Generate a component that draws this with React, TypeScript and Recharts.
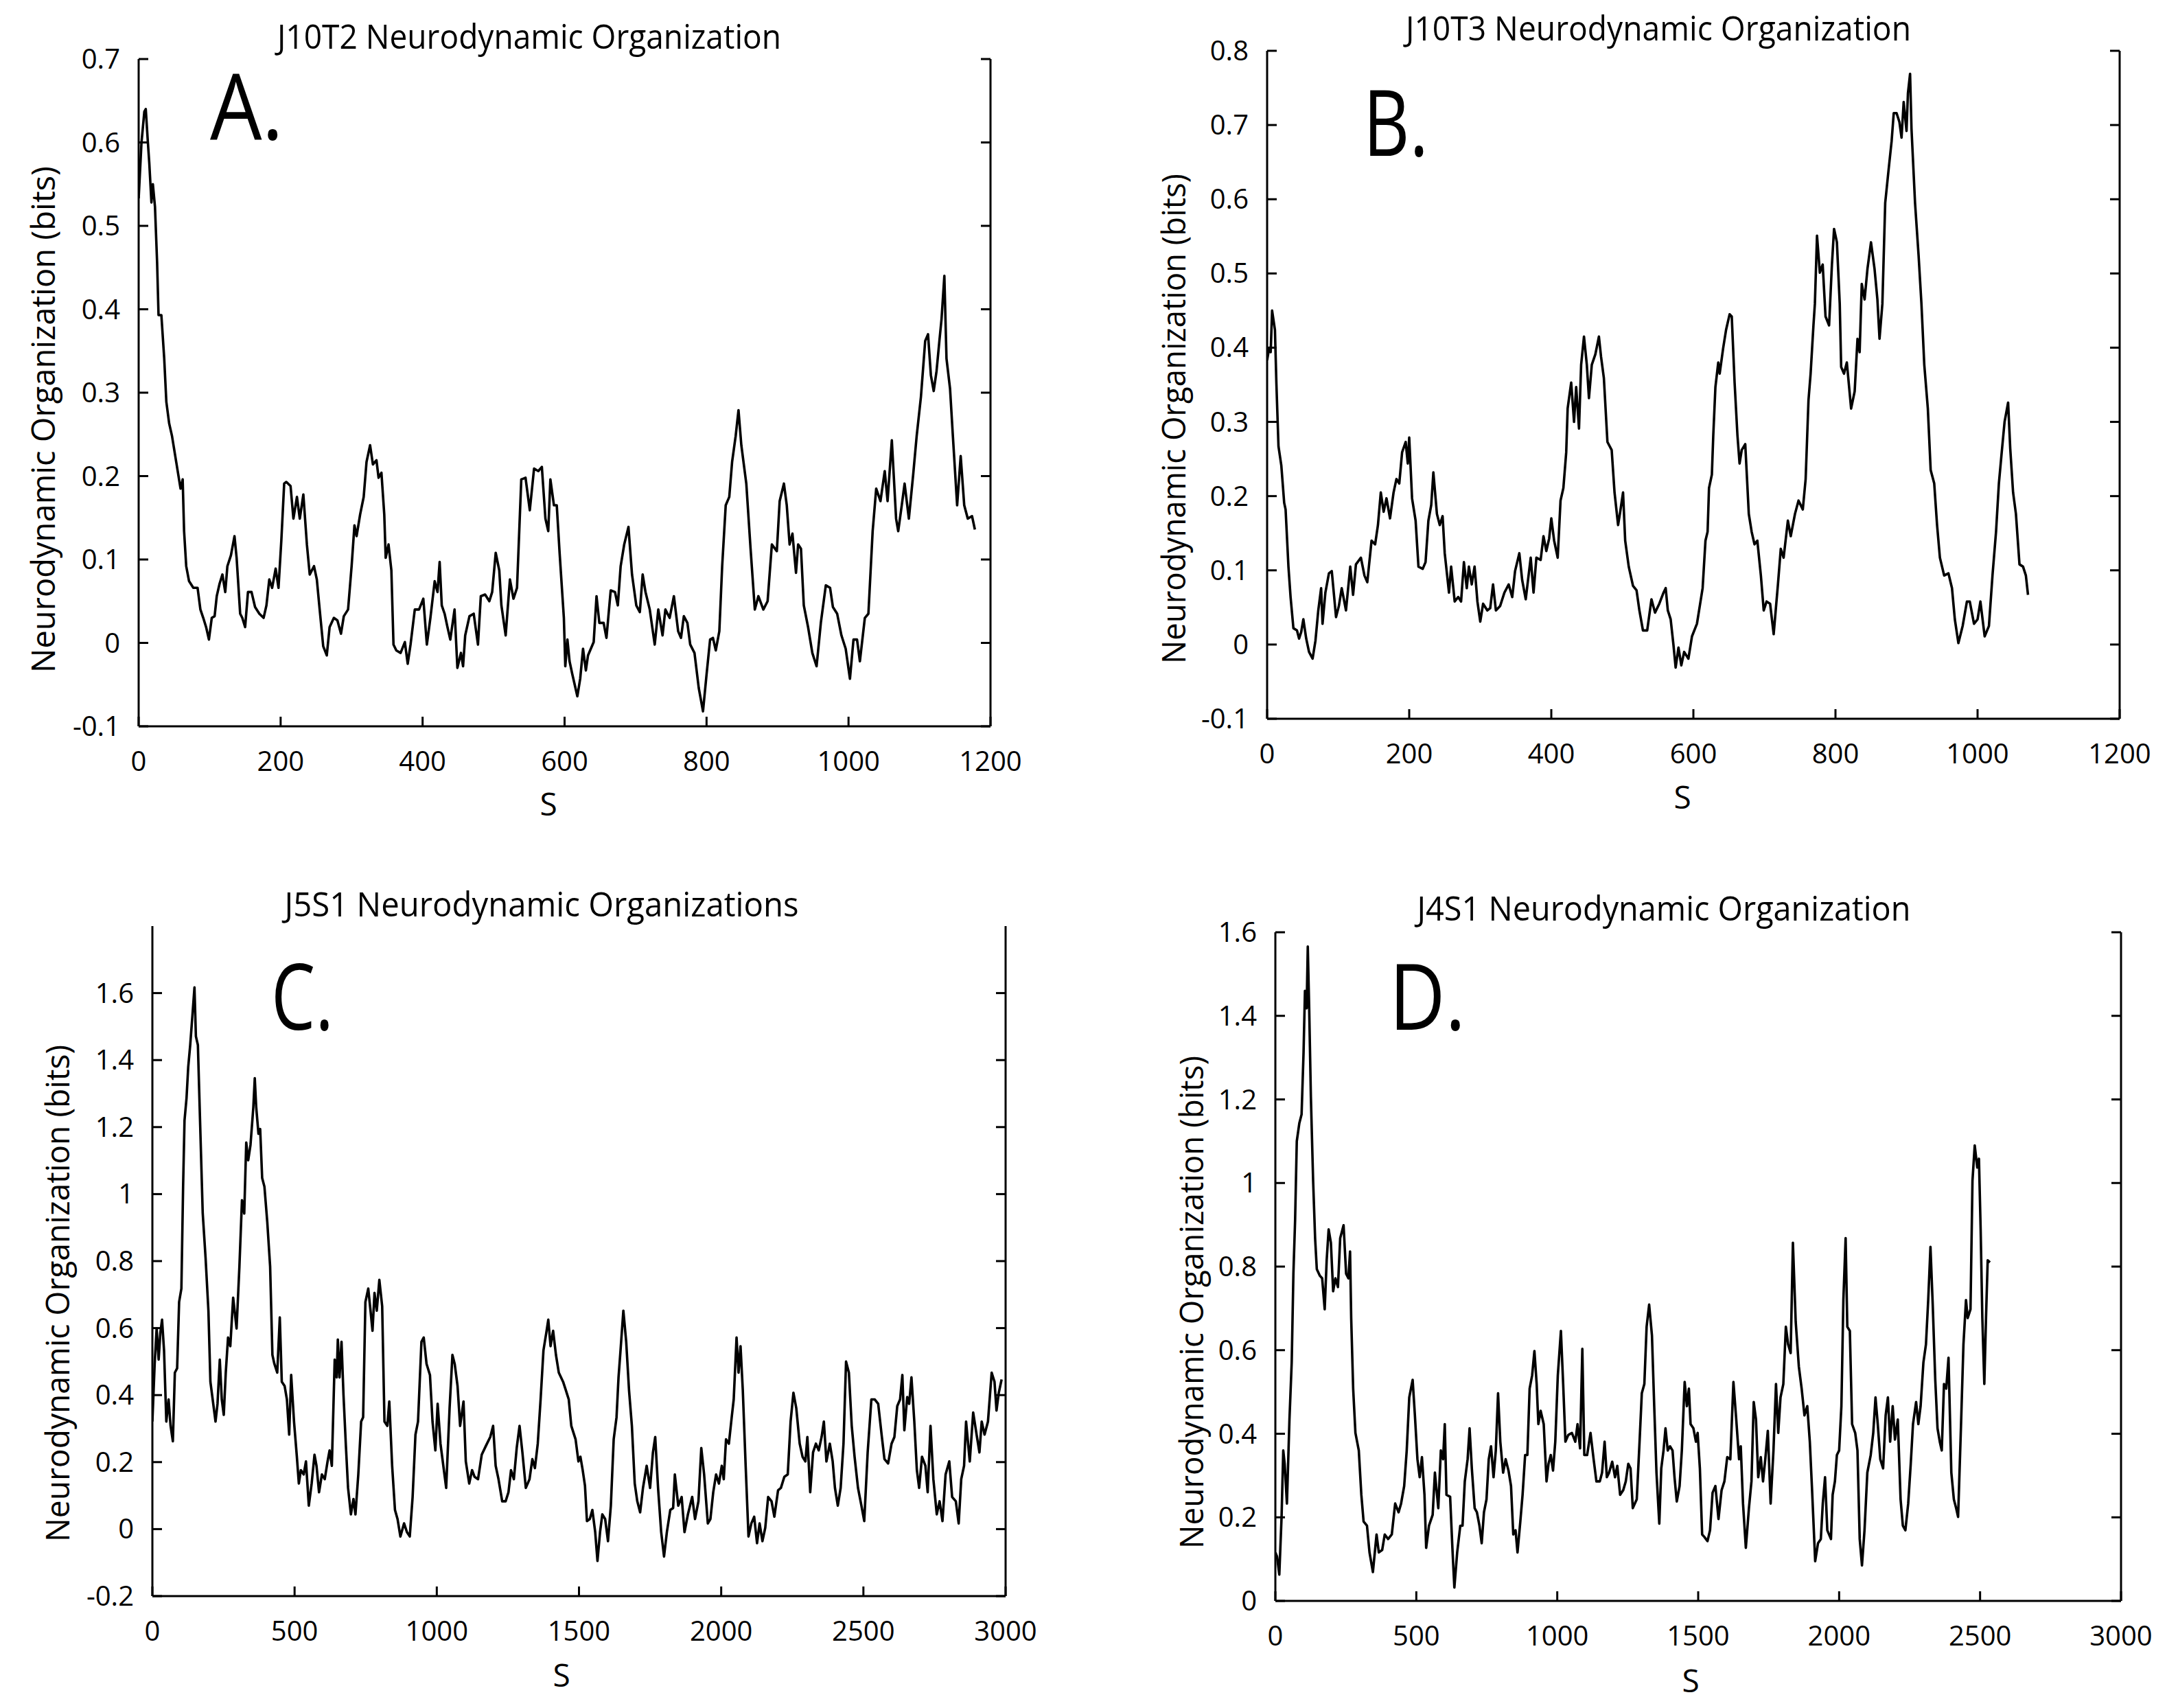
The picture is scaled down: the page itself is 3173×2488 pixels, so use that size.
import React from "react";
import { LineChart, Line, XAxis, YAxis, ReferenceLine } from "recharts";

// ---- panel A: J10T2 ----
const aS = [0, 4, 8, 10, 13, 15, 18, 20, 23, 26, 28, 32, 36, 39, 43, 47, 51, 55, 59, 62, 64, 67, 71, 77, 83, 87, 91, 95, 99, 103, 107, 110, 114, 118, 122, 125, 130, 135, 138, 143, 146, 150, 154, 159, 164, 170, 176, 180, 184, 188, 193, 197, 201, 205, 208, 214, 218, 223, 227, 232, 237, 241, 247, 251, 255, 260, 265, 269, 275, 280, 285, 289, 295, 300, 304, 307, 312, 317, 321, 326, 330, 335, 338, 342, 346, 348, 352, 356, 359, 363, 369, 375, 379, 383, 389, 395, 401, 406, 411, 417, 421, 424, 427, 431, 435, 439, 445, 449, 454, 457, 460, 466, 472, 478, 482, 488, 494, 498, 503, 508, 511, 517, 523, 528, 533, 539, 545, 551, 557, 563, 568, 573, 577, 580, 585, 589, 593, 599, 601, 604, 607, 611, 618, 622, 626, 630, 633, 641, 645, 649, 655, 659, 665, 671, 675, 679, 684, 690, 695, 701, 706, 710, 714, 720, 727, 732, 738, 742, 748, 754, 760, 764, 768, 773, 777, 783, 789, 795, 800, 805, 809, 813, 818, 822, 827, 832, 836, 841, 845, 849, 856, 862, 868, 873, 880, 886, 892, 899, 903, 909, 913, 917, 921, 926, 929, 933, 937, 943, 949, 955, 961, 968, 974, 978, 984, 990, 996, 1002, 1007, 1012, 1016, 1023, 1028, 1034, 1039, 1045, 1051, 1055, 1061, 1067, 1070, 1075, 1079, 1085, 1091, 1096, 1102, 1108, 1112, 1116, 1120, 1124, 1128, 1131, 1135, 1138, 1143, 1147, 1153, 1158, 1163, 1168, 1174, 1178];
const aN = [0.533, 0.6, 0.637, 0.64, 0.6, 0.575, 0.528, 0.55, 0.523, 0.456, 0.393, 0.393, 0.341, 0.289, 0.263, 0.248, 0.227, 0.206, 0.185, 0.196, 0.134, 0.092, 0.074, 0.066, 0.066, 0.04, 0.03, 0.019, 0.004, 0.03, 0.032, 0.056, 0.071, 0.082, 0.061, 0.092, 0.105, 0.128, 0.102, 0.035, 0.03, 0.019, 0.061, 0.061, 0.043, 0.035, 0.03, 0.045, 0.076, 0.066, 0.089, 0.066, 0.123, 0.191, 0.193, 0.188, 0.149, 0.175, 0.149, 0.178, 0.118, 0.082, 0.092, 0.076, 0.04, -0.004, -0.015, 0.019, 0.03, 0.027, 0.011, 0.032, 0.04, 0.092, 0.141, 0.128, 0.154, 0.175, 0.217, 0.237, 0.214, 0.219, 0.198, 0.204, 0.154, 0.102, 0.118, 0.087, -0.002, -0.009, -0.012, 0.001, -0.025, -0.002, 0.04, 0.04, 0.053, -0.002, 0.03, 0.074, 0.061, 0.097, 0.045, 0.035, 0.019, 0.004, 0.04, -0.03, -0.012, -0.028, 0.009, 0.032, 0.035, -0.002, 0.056, 0.058, 0.05, 0.061, 0.108, 0.087, 0.045, 0.009, 0.076, 0.053, 0.066, 0.196, 0.198, 0.159, 0.209, 0.206, 0.211, 0.149, 0.134, 0.196, 0.165, 0.165, 0.108, 0.03, -0.028, 0.004, -0.022, -0.038, -0.064, -0.043, -0.007, -0.033, -0.015, 0.001, 0.056, 0.024, 0.024, 0.006, 0.063, 0.061, 0.045, 0.092, 0.118, 0.139, 0.082, 0.045, 0.037, 0.082, 0.061, 0.04, -0.002, 0.04, 0.009, 0.04, 0.03, 0.056, 0.014, 0.006, 0.032, 0.024, -0.002, -0.012, -0.054, -0.082, -0.038, 0.004, 0.006, -0.009, 0.014, 0.092, 0.165, 0.175, 0.217, 0.248, 0.279, 0.237, 0.191, 0.113, 0.04, 0.056, 0.04, 0.05, 0.118, 0.11, 0.17, 0.191, 0.165, 0.118, 0.131, 0.084, 0.118, 0.113, 0.045, 0.019, -0.012, -0.028, 0.024, 0.069, 0.066, 0.043, 0.035, 0.009, -0.007, -0.043, 0.004, 0.004, -0.022, 0.03, 0.035, 0.134, 0.185, 0.17, 0.206, 0.17, 0.243, 0.149, 0.134, 0.165, 0.191, 0.149, 0.201, 0.248, 0.295, 0.362, 0.37, 0.321, 0.302, 0.326, 0.362, 0.388, 0.44, 0.341, 0.305, 0.248, 0.165, 0.224, 0.165, 0.149, 0.152, 0.136];

// ---- panel B: J10T3 ----
const bS = [0, 3, 5, 7, 11, 13, 16, 20, 24, 26, 30, 33, 37, 42, 45, 48, 51, 55, 59, 64, 68, 72, 76, 78, 82, 87, 91, 97, 101, 105, 111, 117, 121, 125, 132, 137, 141, 147, 152, 156, 160, 164, 168, 173, 178, 182, 186, 190, 195, 198, 200, 204, 209, 213, 219, 223, 227, 231, 234, 239, 243, 247, 250, 256, 259, 264, 269, 273, 277, 281, 284, 288, 292, 296, 300, 304, 310, 314, 318, 322, 328, 334, 340, 345, 349, 355, 359, 364, 371, 375, 379, 385, 389, 393, 397, 400, 404, 409, 413, 417, 421, 423, 428, 432, 435, 439, 442, 446, 450, 453, 457, 462, 467, 470, 474, 479, 485, 489, 494, 497, 501, 504, 509, 515, 520, 524, 529, 535, 541, 546, 552, 558, 561, 564, 568, 572, 575, 579, 583, 587, 593, 598, 605, 609, 613, 617, 620, 622, 626, 628, 631, 635, 637, 642, 646, 651, 654, 658, 662, 665, 668, 673, 678, 682, 686, 690, 695, 699, 703, 708, 713, 719, 723, 727, 733, 737, 743, 748, 754, 758, 762, 765, 769, 771, 774, 778, 782, 786, 791, 795, 798, 802, 806, 808, 812, 816, 822, 827, 831, 834, 837, 841, 845, 850, 855, 859, 862, 866, 870, 875, 879, 882, 886, 890, 893, 896, 900, 902, 905, 907, 912, 917, 921, 925, 930, 934, 939, 943, 947, 953, 959, 964, 968, 973, 979, 985, 989, 995, 1000, 1004, 1010, 1016, 1021, 1026, 1030, 1034, 1038, 1043, 1046, 1050, 1054, 1059, 1064, 1068, 1071];
const bN = [0.383, 0.4, 0.394, 0.45, 0.424, 0.353, 0.267, 0.241, 0.191, 0.182, 0.105, 0.064, 0.022, 0.019, 0.008, 0.017, 0.034, 0.008, -0.01, -0.019, 0.005, 0.046, 0.076, 0.028, 0.07, 0.096, 0.099, 0.037, 0.052, 0.076, 0.046, 0.105, 0.067, 0.108, 0.117, 0.093, 0.084, 0.14, 0.135, 0.161, 0.205, 0.179, 0.197, 0.17, 0.205, 0.223, 0.217, 0.259, 0.273, 0.244, 0.279, 0.197, 0.167, 0.105, 0.102, 0.111, 0.167, 0.188, 0.232, 0.176, 0.161, 0.173, 0.123, 0.07, 0.105, 0.058, 0.064, 0.058, 0.111, 0.076, 0.105, 0.081, 0.105, 0.058, 0.031, 0.055, 0.046, 0.049, 0.081, 0.046, 0.052, 0.07, 0.081, 0.064, 0.099, 0.123, 0.087, 0.061, 0.117, 0.07, 0.117, 0.114, 0.146, 0.126, 0.143, 0.17, 0.14, 0.117, 0.194, 0.211, 0.259, 0.318, 0.353, 0.3, 0.347, 0.291, 0.377, 0.415, 0.377, 0.332, 0.377, 0.391, 0.415, 0.388, 0.359, 0.273, 0.262, 0.205, 0.161, 0.179, 0.205, 0.14, 0.105, 0.079, 0.073, 0.046, 0.019, 0.019, 0.061, 0.043, 0.055, 0.07, 0.076, 0.046, 0.034, -0.001, -0.031, -0.004, -0.028, -0.01, -0.019, 0.011, 0.028, 0.052, 0.076, 0.14, 0.152, 0.211, 0.229, 0.282, 0.347, 0.38, 0.365, 0.4, 0.424, 0.445, 0.442, 0.353, 0.282, 0.244, 0.262, 0.27, 0.176, 0.152, 0.135, 0.14, 0.093, 0.046, 0.058, 0.055, 0.014, 0.081, 0.129, 0.117, 0.167, 0.146, 0.176, 0.194, 0.182, 0.223, 0.329, 0.365, 0.43, 0.459, 0.551, 0.501, 0.512, 0.442, 0.43, 0.512, 0.56, 0.542, 0.459, 0.374, 0.365, 0.38, 0.318, 0.341, 0.412, 0.394, 0.486, 0.465, 0.506, 0.542, 0.506, 0.465, 0.412, 0.459, 0.595, 0.642, 0.678, 0.716, 0.716, 0.704, 0.683, 0.731, 0.692, 0.743, 0.769, 0.695, 0.595, 0.524, 0.459, 0.377, 0.318, 0.235, 0.217, 0.161, 0.117, 0.093, 0.096, 0.076, 0.034, 0.002, 0.025, 0.058, 0.058, 0.028, 0.034, 0.058, 0.011, 0.025, 0.093, 0.152, 0.217, 0.259, 0.3, 0.326, 0.264, 0.205, 0.176, 0.108, 0.105, 0.093, 0.067];

// ---- panel C: J5S1 ----
const cS = [0, 8, 15, 22, 28, 34, 41, 49, 57, 64, 72, 79, 87, 94, 102, 108, 113, 120, 126, 133, 140, 148, 153, 160, 168, 177, 187, 197, 204, 212, 222, 229, 237, 244, 251, 258, 266, 274, 284, 296, 306, 315, 323, 330, 337, 345, 355, 360, 365, 373, 379, 386, 394, 404, 414, 422, 429, 439, 448, 455, 465, 473, 481, 488, 498, 508, 515, 522, 532, 540, 550, 560, 570, 577, 586, 596, 606, 616, 623, 631, 641, 648, 652, 658, 665, 672, 680, 688, 698, 707, 714, 724, 734, 741, 749, 759, 767, 774, 781, 789, 798, 808, 816, 826, 833, 843, 853, 862, 872, 885, 895, 905, 915, 925, 934, 946, 954, 964, 976, 985, 995, 1003, 1013, 1023, 1033, 1045, 1055, 1063, 1073, 1082, 1094, 1102, 1114, 1124, 1133, 1145, 1158, 1173, 1188, 1198, 1207, 1217, 1230, 1242, 1252, 1261, 1271, 1281, 1291, 1301, 1313, 1326, 1336, 1345, 1355, 1365, 1375, 1385, 1392, 1400, 1409, 1419, 1429, 1444, 1454, 1464, 1473, 1488, 1498, 1505, 1513, 1521, 1528, 1538, 1547, 1557, 1565, 1574, 1582, 1592, 1602, 1612, 1622, 1632, 1639, 1646, 1656, 1666, 1676, 1686, 1696, 1705, 1715, 1725, 1738, 1750, 1760, 1768, 1778, 1789, 1799, 1809, 1821, 1831, 1837, 1849, 1861, 1871, 1883, 1898, 1908, 1920, 1930, 1940, 1953, 1962, 1972, 1982, 1992, 2002, 2009, 2017, 2027, 2037, 2044, 2054, 2061, 2068, 2076, 2086, 2096, 2106, 2116, 2126, 2135, 2145, 2155, 2165, 2177, 2187, 2200, 2210, 2222, 2234, 2244, 2254, 2264, 2276, 2286, 2296, 2303, 2313, 2323, 2333, 2343, 2353, 2361, 2370, 2382, 2392, 2400, 2410, 2420, 2430, 2439, 2449, 2459, 2469, 2481, 2493, 2503, 2515, 2528, 2540, 2552, 2564, 2574, 2587, 2599, 2609, 2619, 2629, 2637, 2644, 2654, 2661, 2669, 2679, 2688, 2696, 2706, 2718, 2726, 2736, 2746, 2758, 2768, 2778, 2789, 2802, 2812, 2825, 2835, 2844, 2854, 2861, 2874, 2886, 2898, 2908, 2916, 2926, 2938, 2951, 2961, 2968, 2976, 2986];
const cN = [0.321, 0.493, 0.599, 0.506, 0.586, 0.625, 0.533, 0.321, 0.387, 0.308, 0.262, 0.467, 0.48, 0.678, 0.718, 1.022, 1.22, 1.286, 1.379, 1.445, 1.524, 1.617, 1.471, 1.445, 1.207, 0.943, 0.81, 0.652, 0.44, 0.387, 0.321, 0.374, 0.506, 0.387, 0.341, 0.467, 0.572, 0.546, 0.691, 0.599, 0.784, 0.982, 0.942, 1.154, 1.101, 1.147, 1.26, 1.346, 1.26, 1.18, 1.194, 1.048, 1.022, 0.916, 0.784, 0.52, 0.493, 0.467, 0.632, 0.44, 0.427, 0.387, 0.282, 0.46, 0.321, 0.216, 0.136, 0.176, 0.163, 0.202, 0.07, 0.136, 0.222, 0.189, 0.11, 0.163, 0.149, 0.202, 0.235, 0.189, 0.506, 0.453, 0.566, 0.453, 0.559, 0.4, 0.255, 0.123, 0.044, 0.09, 0.044, 0.163, 0.321, 0.334, 0.678, 0.718, 0.652, 0.592, 0.705, 0.652, 0.744, 0.665, 0.321, 0.308, 0.381, 0.189, 0.057, 0.03, -0.022, 0.017, -0.009, -0.022, 0.096, 0.282, 0.321, 0.559, 0.572, 0.493, 0.46, 0.321, 0.235, 0.374, 0.255, 0.189, 0.123, 0.361, 0.52, 0.493, 0.427, 0.308, 0.381, 0.202, 0.136, 0.176, 0.156, 0.149, 0.222, 0.249, 0.275, 0.308, 0.189, 0.149, 0.083, 0.083, 0.11, 0.176, 0.149, 0.242, 0.308, 0.229, 0.123, 0.149, 0.209, 0.182, 0.255, 0.387, 0.533, 0.586, 0.625, 0.546, 0.592, 0.52, 0.467, 0.44, 0.414, 0.387, 0.308, 0.268, 0.202, 0.216, 0.176, 0.13, 0.024, 0.03, 0.057, -0.009, -0.095, -0.009, 0.044, 0.03, -0.036, 0.07, 0.268, 0.334, 0.453, 0.533, 0.652, 0.559, 0.414, 0.308, 0.136, 0.083, 0.05, 0.123, 0.189, 0.123, 0.229, 0.275, 0.123, -0.009, -0.082, -0.009, 0.057, 0.063, 0.163, 0.07, 0.096, -0.009, 0.044, 0.096, 0.03, 0.083, 0.242, 0.163, 0.017, 0.03, 0.11, 0.163, 0.136, 0.189, 0.149, 0.268, 0.255, 0.334, 0.387, 0.572, 0.467, 0.546, 0.414, 0.189, -0.022, 0.017, 0.037, -0.042, 0.017, -0.036, 0.004, 0.096, 0.083, 0.037, 0.116, 0.123, 0.156, 0.163, 0.321, 0.407, 0.361, 0.255, 0.216, 0.202, 0.275, 0.11, 0.229, 0.255, 0.235, 0.275, 0.321, 0.202, 0.255, 0.202, 0.123, 0.07, 0.123, 0.255, 0.5, 0.467, 0.308, 0.216, 0.123, 0.07, 0.024, 0.229, 0.387, 0.387, 0.374, 0.282, 0.209, 0.196, 0.255, 0.275, 0.367, 0.387, 0.46, 0.295, 0.394, 0.374, 0.453, 0.321, 0.176, 0.123, 0.216, 0.189, 0.11, 0.308, 0.149, 0.044, 0.083, 0.024, 0.163, 0.202, 0.096, 0.083, 0.017, 0.149, 0.189, 0.321, 0.202, 0.348, 0.282, 0.229, 0.321, 0.282, 0.321, 0.467, 0.44, 0.354, 0.407, 0.447];

// ---- panel D: J4S1 ----
const dS = [0, 6, 14, 22, 28, 33, 41, 50, 58, 64, 70, 76, 85, 93, 100, 105, 111, 115, 120, 126, 134, 141, 147, 158, 166, 175, 182, 189, 197, 205, 213, 222, 230, 242, 251, 259, 265, 269, 276, 284, 296, 305, 313, 325, 334, 346, 359, 367, 379, 388, 400, 413, 425, 437, 446, 457, 466, 475, 487, 495, 504, 512, 520, 529, 535, 545, 558, 566, 578, 587, 595, 601, 607, 620, 628, 635, 645, 656, 664, 672, 682, 689, 697, 707, 715, 724, 732, 740, 749, 757, 765, 774, 782, 790, 798, 808, 817, 827, 836, 844, 852, 859, 869, 877, 886, 894, 902, 911, 919, 927, 933, 941, 952, 962, 969, 977, 985, 993, 1002, 1013, 1021, 1029, 1039, 1052, 1064, 1072, 1081, 1089, 1096, 1106, 1118, 1129, 1139, 1151, 1159, 1168, 1176, 1184, 1195, 1205, 1213, 1223, 1234, 1243, 1252, 1260, 1268, 1282, 1292, 1300, 1309, 1317, 1326, 1336, 1344, 1352, 1362, 1369, 1377, 1384, 1392, 1400, 1409, 1416, 1424, 1434, 1442, 1452, 1460, 1467, 1473, 1483, 1492, 1498, 1506, 1514, 1522, 1533, 1542, 1551, 1561, 1572, 1583, 1593, 1603, 1614, 1625, 1635, 1645, 1651, 1659, 1669, 1680, 1689, 1697, 1705, 1713, 1722, 1730, 1738, 1747, 1757, 1767, 1776, 1784, 1792, 1802, 1811, 1819, 1828, 1836, 1846, 1857, 1867, 1877, 1887, 1896, 1904, 1915, 1925, 1935, 1942, 1950, 1958, 1971, 1977, 1985, 1992, 2000, 2008, 2015, 2023, 2029, 2038, 2046, 2057, 2065, 2073, 2081, 2090, 2100, 2112, 2121, 2129, 2137, 2146, 2156, 2165, 2173, 2181, 2190, 2198, 2208, 2218, 2226, 2235, 2245, 2254, 2262, 2273, 2281, 2289, 2299, 2308, 2316, 2324, 2332, 2341, 2349, 2357, 2364, 2372, 2380, 2388, 2398, 2407, 2415, 2422, 2432, 2441, 2450, 2456, 2466, 2473, 2481, 2490, 2496, 2502, 2508, 2515, 2521, 2527, 2535];
const dN = [0.116, 0.106, 0.063, 0.2, 0.36, 0.328, 0.233, 0.434, 0.571, 0.783, 0.91, 1.1, 1.143, 1.164, 1.312, 1.46, 1.418, 1.566, 1.418, 1.206, 1.005, 0.868, 0.794, 0.778, 0.772, 0.698, 0.815, 0.889, 0.857, 0.741, 0.772, 0.751, 0.868, 0.899, 0.783, 0.772, 0.836, 0.677, 0.508, 0.402, 0.36, 0.254, 0.19, 0.18, 0.116, 0.069, 0.159, 0.116, 0.122, 0.159, 0.148, 0.159, 0.233, 0.212, 0.233, 0.275, 0.36, 0.487, 0.529, 0.444, 0.339, 0.296, 0.344, 0.254, 0.127, 0.18, 0.206, 0.307, 0.222, 0.36, 0.339, 0.423, 0.254, 0.249, 0.127, 0.032, 0.116, 0.18, 0.18, 0.286, 0.339, 0.413, 0.317, 0.222, 0.212, 0.18, 0.138, 0.212, 0.243, 0.339, 0.37, 0.296, 0.36, 0.497, 0.381, 0.307, 0.339, 0.312, 0.275, 0.159, 0.169, 0.116, 0.19, 0.254, 0.349, 0.349, 0.508, 0.54, 0.598, 0.519, 0.423, 0.455, 0.423, 0.286, 0.328, 0.349, 0.312, 0.381, 0.54, 0.646, 0.519, 0.381, 0.397, 0.402, 0.381, 0.423, 0.365, 0.603, 0.349, 0.349, 0.402, 0.339, 0.286, 0.286, 0.307, 0.381, 0.296, 0.307, 0.333, 0.296, 0.323, 0.254, 0.265, 0.286, 0.328, 0.317, 0.222, 0.243, 0.381, 0.497, 0.519, 0.656, 0.709, 0.635, 0.466, 0.307, 0.185, 0.317, 0.36, 0.413, 0.36, 0.37, 0.36, 0.296, 0.238, 0.275, 0.36, 0.524, 0.466, 0.508, 0.423, 0.413, 0.381, 0.402, 0.317, 0.159, 0.153, 0.143, 0.169, 0.259, 0.275, 0.196, 0.265, 0.286, 0.344, 0.339, 0.524, 0.434, 0.339, 0.37, 0.233, 0.127, 0.222, 0.286, 0.476, 0.434, 0.296, 0.344, 0.286, 0.339, 0.407, 0.233, 0.36, 0.519, 0.402, 0.487, 0.519, 0.656, 0.614, 0.593, 0.857, 0.667, 0.561, 0.508, 0.444, 0.466, 0.381, 0.265, 0.095, 0.138, 0.148, 0.233, 0.296, 0.169, 0.148, 0.254, 0.286, 0.349, 0.36, 0.466, 0.72, 0.868, 0.656, 0.646, 0.423, 0.402, 0.36, 0.148, 0.085, 0.169, 0.307, 0.349, 0.402, 0.487, 0.423, 0.339, 0.317, 0.444, 0.487, 0.381, 0.466, 0.386, 0.434, 0.243, 0.18, 0.169, 0.233, 0.328, 0.423, 0.476, 0.423, 0.466, 0.571, 0.614, 0.72, 0.847, 0.709, 0.529, 0.413, 0.381, 0.36, 0.519, 0.508, 0.582, 0.307, 0.243, 0.222, 0.201, 0.413, 0.614, 0.72, 0.677, 0.698, 1.005, 1.09, 1.037, 1.058, 0.889, 0.677, 0.519, 0.677, 0.815, 0.81];

// ---- axis ticks ----
const yTicksA = [-0.1, 0, 0.1, 0.2, 0.3, 0.4, 0.5, 0.6, 0.7];
const yTicksB = [-0.1, 0, 0.1, 0.2, 0.3, 0.4, 0.5, 0.6, 0.7, 0.8];
const yTicksC = [-0.2, 0, 0.2, 0.4, 0.6, 0.8, 1, 1.2, 1.4, 1.6];
const yTicksD = [0, 0.2, 0.4, 0.6, 0.8, 1, 1.2, 1.4, 1.6];
const xTicksShort = [0, 200, 400, 600, 800, 1000, 1200];
const xTicksLong = [0, 500, 1000, 1500, 2000, 2500, 3000];

const FONT = "'Open Sans', sans-serif";
const YW = 160; // room for the y tick labels
const MT = 50;
const MR = 70;
const XH = 100;
const TICK = 14;
const SW = 3;

function Panel(p: any) {
  const data = p.s.map((s: number, i: number) => ({ s, v: p.v[i] }));
  const right = YW + p.w;
  const bottom = MT + p.h;

  const YTick = ({ y, payload }: any) => (
    <g>
      <line x1={YW} x2={YW + TICK} y1={y} y2={y} stroke="#000" strokeWidth={SW} />
      <line x1={right - TICK} x2={right} y1={y} y2={y} stroke="#000" strokeWidth={SW} />
      <text x={YW - 27} y={y + 14} textAnchor="end" fontSize={40} fontFamily={FONT} fill="#000">
        {String(payload.value)}
      </text>
    </g>
  );

  const XTick = ({ x, payload }: any) => (
    <g>
      <line x1={x} x2={x} y1={bottom} y2={bottom - TICK} stroke="#000" strokeWidth={SW} />
      <text x={x} y={bottom + 65} textAnchor="middle" fontSize={40} fontFamily={FONT} fill="#000">
        {String(payload.value)}
      </text>
    </g>
  );

  return (
    <div style={{ position: "absolute", left: p.left - YW, top: p.top - MT }}>
      <LineChart
        width={YW + p.w + MR}
        height={MT + p.h + XH}
        data={data}
        margin={{ top: MT, right: MR, bottom: 0, left: 0 }}
      >
        <XAxis
          dataKey="s"
          type="number"
          domain={p.xDomain}
          ticks={p.xTicks}
          interval={0}
          allowDataOverflow
          height={XH}
          axisLine={{ stroke: "#000", strokeWidth: SW }}
          tickLine={false}
          tick={XTick}
        />
        <YAxis
          type="number"
          domain={p.yDomain}
          ticks={p.yTicks}
          interval={0}
          allowDataOverflow
          width={YW}
          axisLine={{ stroke: "#000", strokeWidth: SW }}
          tickLine={false}
          tick={YTick}
        />
        <ReferenceLine x={p.xDomain[1]} stroke="#000" strokeWidth={SW} />
        <Line
          type="linear"
          dataKey="v"
          stroke="#000"
          strokeWidth={3.6}
          strokeLinejoin="round"
          dot={false}
          isAnimationActive={false}
        />
      </LineChart>
    </div>
  );
}

const YLABEL = "Neurodynamic Organization (bits)";

export default function App() {
  return (
    <div style={{ position: "absolute", left: 0, top: 0, width: 3173, height: 2488, background: "#fff", overflow: "hidden" }}>
      <Panel s={aS} v={aN} left={202} top={86} w={1241} h={972}
        xDomain={[0, 1200]} xTicks={xTicksShort} yDomain={[-0.1, 0.7]} yTicks={yTicksA} />
      <Panel s={bS} v={bN} left={1846} top={74} w={1242} h={973}
        xDomain={[0, 1200]} xTicks={xTicksShort} yDomain={[-0.1, 0.8]} yTicks={yTicksB} />
      <Panel s={cS} v={cN} left={222} top={1349} w={1243} h={976}
        xDomain={[0, 3000]} xTicks={xTicksLong} yDomain={[-0.2, 1.8]} yTicks={yTicksC} />
      <Panel s={dS} v={dN} left={1858} top={1358} w={1232} h={974}
        xDomain={[0, 3000]} xTicks={xTicksLong} yDomain={[0, 1.6]} yTicks={yTicksD} />

      {/* titles, panel letters, axis labels */}
      <svg width={3173} height={2488} style={{ position: "absolute", left: 0, top: 0, pointerEvents: "none" }}
        fontFamily={FONT} fill="#000">
        <text x={771} y={71} fontSize={50} textAnchor="middle" textLength={734} lengthAdjust="spacingAndGlyphs">J10T2 Neurodynamic Organization</text>
        <text x={2416} y={59} fontSize={50} textAnchor="middle" textLength={736} lengthAdjust="spacingAndGlyphs">J10T3 Neurodynamic Organization</text>
        <text x={789} y={1335} fontSize={50} textAnchor="middle" textLength={749} lengthAdjust="spacingAndGlyphs">J5S1 Neurodynamic Organizations</text>
        <text x={2424} y={1341} fontSize={50} textAnchor="middle" textLength={719} lengthAdjust="spacingAndGlyphs">J4S1 Neurodynamic Organization</text>

        <text x={306} y={203} fontSize={133} textLength={107} lengthAdjust="spacingAndGlyphs">A.</text>
        <text x={1986} y={227} fontSize={133} textLength={95} lengthAdjust="spacingAndGlyphs">B.</text>
        <text x={395} y={1500} fontSize={133} textLength={91} lengthAdjust="spacingAndGlyphs">C.</text>
        <text x={2024} y={1500} fontSize={133} textLength={111} lengthAdjust="spacingAndGlyphs">D.</text>

        <text transform="translate(80,611) rotate(-90)" fontSize={48} textAnchor="middle" textLength={738} lengthAdjust="spacingAndGlyphs">{YLABEL}</text>
        <text transform="translate(1727,610) rotate(-90)" fontSize={48} textAnchor="middle" textLength={714} lengthAdjust="spacingAndGlyphs">{YLABEL}</text>
        <text transform="translate(101,1884) rotate(-90)" fontSize={48} textAnchor="middle" textLength={724} lengthAdjust="spacingAndGlyphs">{YLABEL}</text>
        <text transform="translate(1753,1897) rotate(-90)" fontSize={48} textAnchor="middle" textLength={718} lengthAdjust="spacingAndGlyphs">{YLABEL}</text>

        <text x={799} y={1188} fontSize={46} textAnchor="middle">S</text>
        <text x={2451} y={1178} fontSize={46} textAnchor="middle">S</text>
        <text x={818} y={2457} fontSize={46} textAnchor="middle">S</text>
        <text x={2463} y={2465} fontSize={46} textAnchor="middle">S</text>
      </svg>
    </div>
  );
}
